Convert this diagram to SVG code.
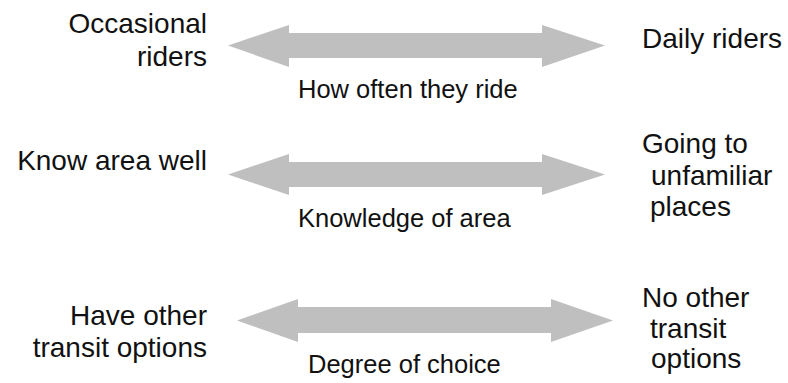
<svg xmlns="http://www.w3.org/2000/svg" width="788" height="383" viewBox="0 0 788 383">
  <style>
    .side { font-family: "Liberation Sans", Arial, sans-serif; font-size: 28px; fill: #111; }
    .right { text-anchor: end; }
    .axis { font-family: "Liberation Sans", Arial, sans-serif; font-size: 25.5px; fill: #111; }
    .arrow { fill: #bfbfbf; }
  </style>
  <rect width="788" height="383" fill="#ffffff"/>

  <!-- double-headed scale arrows -->
  <g id="connectors">
    <polygon class="arrow" points="228,45.5 289,25 289,33 542,33 542,25 605,45.5 542,67 542,58 289,58 289,67"/>
    <polygon class="arrow" points="228,174.5 289,154 289,162 542,162 542,154 605,174.5 542,195 542,187 289,187 289,195"/>
    <polygon class="arrow" points="237,320.5 298,299 298,307 551,307 551,299 613,320.5 551,342 551,333 298,333 298,342"/>
  </g>

  <!-- frequency scale -->
  <g id="occasional-riders">
    <text class="side right" x="207" y="33">Occasional</text>
    <text class="side right" x="207" y="66">riders</text>
  </g>
  <g id="daily-riders">
    <text class="side" x="642" y="48">Daily riders</text>
  </g>
  <g id="label-frequency">
    <text class="axis" x="298" y="98">How often they ride</text>
  </g>

  <!-- knowledge scale -->
  <g id="know-area-well">
    <text class="side right" x="207" y="170">Know area well</text>
  </g>
  <g id="unfamiliar-places">
    <text class="side" x="642" y="153">Going to</text>
    <text class="side" x="651" y="185">unfamiliar</text>
    <text class="side" x="650" y="216">places</text>
  </g>
  <g id="label-knowledge">
    <text class="axis" x="298" y="227">Knowledge of area</text>
  </g>

  <!-- choice scale -->
  <g id="other-options">
    <text class="side right" x="207" y="325">Have other</text>
    <text class="side right" x="207" y="357">transit options</text>
  </g>
  <g id="no-other-options">
    <text class="side" x="642" y="307">No other</text>
    <text class="side" x="650" y="338">transit</text>
    <text class="side" x="651" y="368">options</text>
  </g>
  <g id="label-choice">
    <text class="axis" x="308" y="373">Degree of choice</text>
  </g>
</svg>
